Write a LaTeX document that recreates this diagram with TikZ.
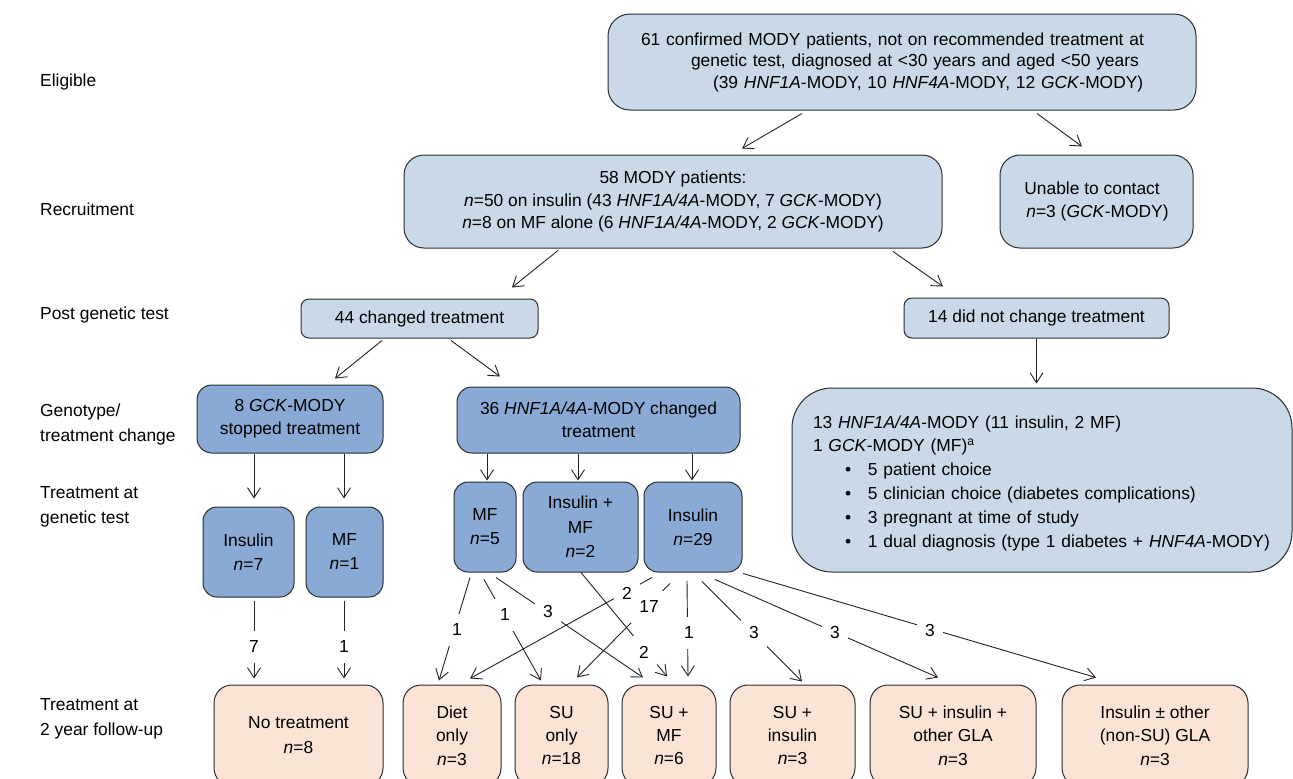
\documentclass[tikz,border=0pt]{standalone}
\usepackage{fontspec}
\setmainfont{Liberation Sans}
\usetikzlibrary{arrows.meta}
\definecolor{lblue}{RGB}{201,217,232}
\definecolor{dblue}{RGB}{138,170,214}
\definecolor{peach}{RGB}{251,228,214}
\definecolor{edgecol}{RGB}{45,45,45}
\definecolor{lnkcol}{RGB}{35,35,35}
\begin{document}
\begin{tikzpicture}[x=1pt,y=-1pt,
  box/.style={draw=edgecol, line width=1pt, inner sep=0pt, align=center,
    font=\fontsize{17.4}{23.5}\selectfont},
  lbox/.style={box, fill=lblue},
  dbox/.style={box, fill=dblue},
  pbox/.style={box, fill=peach, rounded corners=18pt},
  arr/.style={draw=lnkcol, line width=0.9pt, -{Straight Barb[length=10pt,width=13pt]}},
  lab/.style={fill=white, inner xsep=8pt, inner ysep=10pt, font=\fontsize{17.4}{20}\selectfont},
  steplab/.style={anchor=west, align=left, inner sep=0pt, font=\fontsize{17.4}{24.5}\selectfont}
]
\useasboundingbox (0,0) rectangle (1293,779);
\fill[white] (0,0) rectangle (1293,779);
\clip (0,0) rectangle (1293,779);

% stage labels
\node[steplab] (s1) at (40,82) {Eligible};
\node[steplab] (s2) at (40,209) {Recruitment};
\node[steplab] (s3) at (40,315) {Post genetic test};
\node[steplab] (s4) at (40,424.5) {Genotype/\\treatment change};
\node[steplab] (s5) at (40,507) {Treatment at\\genetic test};
\node[steplab] (s6) at (40,719) {Treatment at\\2 year follow-up};

% boxes
\node[lbox, rounded corners=22pt, minimum width=588pt, minimum height=96pt, align=left, text width=522pt,
  font=\fontsize{17.4}{21.5}\selectfont] (elig) at (902,62)
  {61 confirmed MODY patients, not on recommended treatment at\\
   \hspace*{50pt}genetic test, diagnosed at <30 years and aged <50 years\\
   \hspace*{72pt}(39 \textit{HNF1A}-MODY, 10 \textit{HNF4A}-MODY, 12 \textit{GCK}-MODY)};

\node[lbox, rounded corners=20pt, minimum width=538pt, minimum height=93pt,
  font=\fontsize{17.4}{22.5}\selectfont] (rec) at (673,201.5)
  {58 MODY patients:\\
   \textit{n}=50 on insulin (43 \textit{HNF1A/4A}-MODY, 7 \textit{GCK}-MODY)\\
   \textit{n}=8 on MF alone (6 \textit{HNF1A/4A}-MODY, 2 \textit{GCK}-MODY)};

\node[lbox, rounded corners=20pt, minimum width=193pt, minimum height=93pt, align=left] (unable) at (1096.5,201.5)
  {Unable to contact\\\hspace*{2pt}\textit{n}=3 (\textit{GCK}-MODY)};

\node[lbox, rounded corners=8pt, minimum width=237pt, minimum height=39pt] (c44) at (419.5,318.5) {44 changed treatment};
\node[lbox, rounded corners=8pt, minimum width=265pt, minimum height=40pt] (n14) at (1036.5,318) {14 did not change treatment};

\node[dbox, rounded corners=15pt, minimum width=186pt, minimum height=68pt,
  font=\fontsize{17.4}{23}\selectfont] (gck8) at (290,419) {8 \textit{GCK}-MODY\\stopped treatment};
\node[dbox, rounded corners=15pt, minimum width=283pt, minimum height=66pt,
  font=\fontsize{17.4}{23}\selectfont] (hnf36) at (598.5,420) {36 \textit{HNF1A/4A}-MODY changed\\treatment};

\node[dbox, rounded corners=14pt, minimum width=91pt, minimum height=90pt, font=\fontsize{17.4}{24}\selectfont] (ins7) at (248.5,552) {Insulin\\\textit{n}=7};
\node[dbox, rounded corners=14pt, minimum width=77pt, minimum height=90pt, font=\fontsize{17.4}{24}\selectfont] (mf1) at (344.5,552) {MF\\\textit{n}=1};
\node[dbox, rounded corners=14pt, minimum width=62pt, minimum height=90pt, font=\fontsize{17.4}{24}\selectfont] (mf5) at (485,527) {MF\\\textit{n}=5};
\node[dbox, rounded corners=14pt, minimum width=115pt, minimum height=90pt, font=\fontsize{17.4}{24.5}\selectfont] (imf2) at (580.5,527) {Insulin +\\MF\\\textit{n}=2};
\node[dbox, rounded corners=14pt, minimum width=98pt, minimum height=90pt, font=\fontsize{17.4}{24}\selectfont] (ins29) at (693,527) {Insulin\\\textit{n}=29};

\node[lbox, rounded corners=40pt, minimum width=500pt, minimum height=184pt, align=left, text width=458pt,
  font=\fontsize{17.4}{23}\selectfont] (big) at (1042,480)
  {\mbox{\rule{0pt}{20pt}13 \textit{HNF1A/4A}-MODY (11 insulin, 2 MF)}\\
   \mbox{1 \textit{GCK}-MODY (MF)\textsuperscript{a}}\\[1pt]
   \mbox{\hspace*{32pt}\makebox[23pt][l]{•}5 patient choice}\\[1pt]
   \mbox{\hspace*{32pt}\makebox[23pt][l]{•}5 clinician choice (diabetes complications)}\\[1pt]
   \mbox{\hspace*{32pt}\makebox[23pt][l]{•}3 pregnant at time of study}\\[1pt]
   \mbox{\hspace*{32pt}\makebox[23pt][l]{•}1 dual diagnosis (type 1 diabetes + \textit{HNF4A}-MODY)}};

\node[pbox, minimum width=169pt, minimum height=101pt, font=\fontsize{17.4}{25}\selectfont] (notr) at (298.5,735.5) {No treatment\\\textit{n}=8};
\node[pbox, minimum width=98pt, minimum height=101pt] (diet) at (452,735.5) {Diet\\only\\\textit{n}=3};
\node[pbox, minimum width=93pt, minimum height=101pt] (suonly) at (561.5,735.5) {SU\\only\\\textit{n}=18};
\node[pbox, minimum width=94pt, minimum height=101pt] (sumf) at (669,735.5) {SU +\\MF\\\textit{n}=6};
\node[pbox, minimum width=125pt, minimum height=101pt] (suins) at (792.5,735.5) {SU +\\insulin\\\textit{n}=3};
\node[pbox, minimum width=166pt, minimum height=101pt] (suino) at (953,735.5) {SU + insulin +\\other GLA\\\textit{n}=3};
\node[pbox, minimum width=186pt, minimum height=101pt] (insoth) at (1155,735.5) {Insulin ± other\\(non-SU) GLA\\\textit{n}=3};

% connectors
\draw[arr] ([xshift=-100pt,yshift=-3pt]elig.south) -- ([xshift=69pt,yshift=6pt]rec.north);
\draw[arr] ([xshift=135pt,yshift=-3pt]elig.south) -- ([xshift=-14.5pt,yshift=8pt]unable.north);
\draw[arr] ([xshift=-115pt,yshift=-2pt]rec.south) -- ([xshift=92.5pt,yshift=11pt]c44.north);
\draw[arr] ([xshift=220pt,yshift=-3pt]rec.south) -- ([xshift=-93.5pt,yshift=11pt]n14.north);
\draw[arr] (n14.south) -- ([xshift=-5.5pt,yshift=4pt]big.north);
\draw[arr] ([xshift=-37.5pt,yshift=-2pt]c44.south) -- ([xshift=45pt,yshift=6pt]gck8.north);
\draw[arr] ([xshift=31.5pt,yshift=-2pt]c44.south) -- ([xshift=-98.5pt,yshift=10pt]hnf36.north);
\draw[arr] ([xshift=-36pt]gck8.south) -- ([xshift=5.5pt,yshift=8pt]ins7.north);
\draw[arr] ([xshift=54pt]gck8.south) -- ([xshift=-0.5pt,yshift=8pt]mf1.north);
\draw[arr] ([xshift=-111.5pt]hnf36.south) -- ([xshift=2pt,yshift=1pt]mf5.north);
\draw[arr] ([xshift=-20.5pt]hnf36.south) -- ([xshift=-2.5pt,yshift=1pt]imf2.north);
\draw[arr] ([xshift=93.5pt]hnf36.south) -- ([xshift=-1pt,yshift=1pt]ins29.north);
\draw[arr] ([xshift=5.5pt,yshift=-3pt]ins7.south) -- ([xshift=-44.5pt,yshift=6pt]notr.north);
\draw[arr] ([xshift=-0.5pt,yshift=-3pt]mf1.south) -- ([xshift=45.5pt,yshift=6pt]notr.north);
\draw[arr] ([xshift=-15pt,yshift=-5pt]mf5.south) -- ([xshift=-13pt,yshift=4pt]diet.north);
\draw[arr] ([xshift=-1pt,yshift=-7pt]mf5.south) -- ([xshift=-20.5pt,yshift=4pt]suonly.north);
\draw[arr] ([xshift=11pt,yshift=-5pt]mf5.south) -- ([xshift=-26pt,yshift=7pt]sumf.north);
\draw[arr] ([xshift=0.5pt]imf2.south) -- ([xshift=-2pt,yshift=8pt]sumf.north);
\draw[arr] ([xshift=-41pt,yshift=-5pt]ins29.south) -- ([xshift=18pt,yshift=6pt]diet.north);
\draw[arr] ([xshift=-23pt,yshift=-11pt]ins29.south) -- ([xshift=15.5pt,yshift=7pt]suonly.north);
\draw[arr] ([xshift=-6pt,yshift=-8pt]ins29.south) -- ([xshift=19pt,yshift=8pt]sumf.north);
\draw[arr] ([xshift=9pt,yshift=-9pt]ins29.south) -- ([xshift=9.5pt,yshift=3pt]suins.north);
\draw[arr] ([xshift=22pt,yshift=-7pt]ins29.south) -- ([xshift=-15pt,yshift=7pt]suino.north);
\draw[arr] ([xshift=50pt,yshift=-1pt]ins29.south) -- ([xshift=-59pt,yshift=7pt]insoth.north);

% connector labels
\node[lab] (l7) at (254,647) {7};
\node[lab] (l1) at (344,647) {1};
\node[lab] (la1) at (457,630) {1};
\node[lab] (la2) at (505,615) {1};
\node[lab] (la3) at (548,612) {3};
\node[lab] (lb1) at (644,652) {2};
\node[lab] (lc1) at (627,593) {2};
\node[lab] (lc2) at (649,607) {17};
\node[lab] (lc3) at (689,633) {1};
\node[lab] (lc4) at (754,633) {3};
\node[lab] (lc5) at (835,633) {3};
\node[lab] (lc6) at (930,631) {3};
\end{tikzpicture}
\end{document}
